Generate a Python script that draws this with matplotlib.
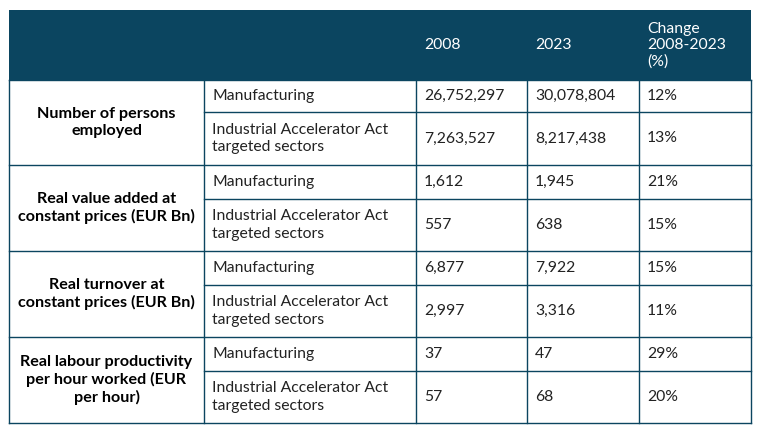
"""
Table: manufacturing vs Industrial Accelerator Act targeted sectors, 2008 and 2023
"""

import matplotlib
matplotlib.use("Agg")
import matplotlib.pyplot as plt
from matplotlib.patches import Rectangle

header_labels = ["2008", "2023", "Change\n2008-2023\n(%)"]
metrics = [
    "Number of persons\nemployed",
    "Real value added at\nconstant prices (EUR Bn)",
    "Real turnover at\nconstant prices (EUR Bn)",
    "Real labour productivity\nper hour worked (EUR\nper hour)",
]
sectors = ["Manufacturing", "Industrial Accelerator Act\ntargeted sectors"]
values_2008 = ["26,752,297", "7,263,527", "1,612", "557", "6,877", "2,997", "37", "57"]
values_2023 = ["30,078,804", "8,217,438", "1,945", "638", "7,922", "3,316", "47", "68"]
change_pct = ["12%", "13%", "21%", "15%", "15%", "11%", "29%", "20%"]

NAVY = "#0b4560"
FONT = "Lato"

# layout in pixels
col_x = [9, 204, 416, 527, 639, 751]
header_top, header_bottom = 10, 80
row_y = [80, 112, 165, 199, 251, 285, 337, 371, 423]

fig = plt.figure(figsize=(7.61, 4.29), dpi=100)
ax = fig.add_axes([0, 0, 1, 1])
ax.set_xlim(0, 761)
ax.set_ylim(429, 0)
ax.axis("off")

# header
ax.add_patch(Rectangle((col_x[0], header_top), col_x[-1] - col_x[0],
                       header_bottom - header_top, color=NAVY, lw=0))
for i, lab in enumerate(header_labels):
    ax.text(col_x[i + 2] + 8, (header_top + header_bottom) / 2, lab,
            color="white", fontsize=11.3, family=FONT, va="center", ha="left",
            linespacing=1.2)

lw = 1.0
# outer border of body
ax.plot([col_x[0], col_x[0]], [header_bottom, row_y[-1]], color=NAVY, lw=lw)
ax.plot([col_x[-1], col_x[-1]], [header_bottom, row_y[-1]], color=NAVY, lw=lw)
# vertical lines
for x in col_x[1:-1]:
    ax.plot([x, x], [header_bottom, row_y[-1]], color=NAVY, lw=lw)
# horizontal lines
for k, y in enumerate(row_y):
    if k % 2 == 0:
        ax.plot([col_x[0], col_x[-1]], [y, y], color=NAVY, lw=lw)
    else:
        ax.plot([col_x[1], col_x[-1]], [y, y], color=NAVY, lw=lw)

# metric labels
for m, lab in enumerate(metrics):
    y0, y1 = row_y[2 * m], row_y[2 * m + 2]
    ax.text((col_x[0] + col_x[1]) / 2, (y0 + y1) / 2, lab, fontsize=11.6,
            family=FONT, fontweight="bold", ha="center", va="center",
            color="black", linespacing=1.25)

# body cells
for r in range(len(values_2008)):
    y0, y1 = row_y[r], row_y[r + 1]
    yc = (y0 + y1) / 2
    row = [sectors[r % 2], values_2008[r], values_2023[r], change_pct[r]]
    for c, txt in enumerate(row):
        ax.text(col_x[c + 1] + 8, yc, txt, fontsize=11.3, family=FONT,
                ha="left", va="center", color="#222222", linespacing=1.35)

fig.savefig("out.png", dpi=100)
